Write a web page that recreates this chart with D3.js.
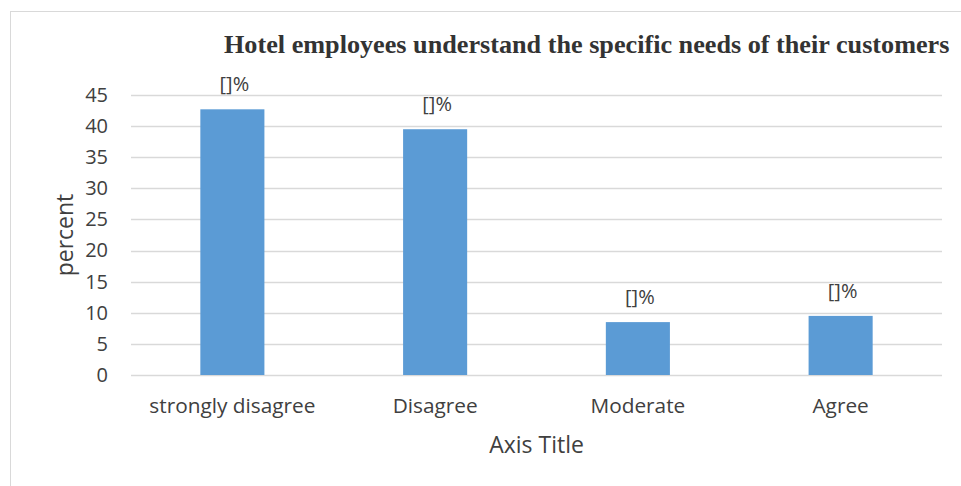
<!DOCTYPE html>
<html>
<head>
<meta charset="utf-8">
<script src="https://cdn.jsdelivr.net/npm/d3@7"></script>
<style>
  html, body { margin: 0; padding: 0; background: #fff; }
  svg { display: block; }
</style>
</head>
<body>
<script>
// Survey responses (percent of respondents)
const categories = ["strongly disagree", "Disagree", "Moderate", "Agree"];
const values = [42.7, 39.5, 8.5, 9.5];
const dataLabels = ["[]%", "[]%", "[]%", "[]%"];
const yTicks = [0, 5, 10, 15, 20, 25, 30, 35, 40, 45];
const chartTitle = "Hotel employees understand the specific needs of their customers";
const yTitle = "percent";
const xTitle = "Axis Title";

const W = 961, H = 486;
const svg = d3.select("body").append("svg").attr("width", W).attr("height", H);

// chart area frame
svg.append("rect")
  .attr("x", 10.5).attr("y", 11.5)
  .attr("width", W + 20).attr("height", H + 20)
  .attr("fill", "#fff").attr("stroke", "#d9d9d9").attr("stroke-width", 1);

const plot = { left: 131, right: 942, top: 95, bottom: 375 };

const x = d3.scaleBand()
  .domain(categories)
  .range([plot.left, plot.right])
  .paddingInner(0.684)
  .paddingOuter(0.342);

const y = d3.scaleLinear().domain([0, 45]).range([plot.bottom, plot.top]);

const sans = "'Open Sans', 'Liberation Sans', sans-serif";
const textColor = "#404040";

// gridlines
svg.append("g")
  .selectAll("line")
  .data(yTicks)
  .join("line")
  .attr("x1", plot.left).attr("x2", plot.right)
  .attr("y1", d => Math.round(y(d)) + 0.5).attr("y2", d => Math.round(y(d)) + 0.5)
  .attr("stroke", "#d9d9d9").attr("stroke-width", 1.5);

// y axis labels
const yAxis = svg.append("g")
  .attr("transform", `translate(${plot.left - 23},0)`)
  .call(d3.axisLeft(y).tickValues(yTicks).tickSize(0).tickPadding(0));
yAxis.select(".domain").remove();
yAxis.selectAll("text")
  .attr("font-family", sans).attr("font-size", 20).attr("fill", textColor);

// bars
svg.append("g")
  .selectAll("rect")
  .data(values)
  .join("rect")
  .attr("x", (d, i) => x(categories[i]))
  .attr("width", x.bandwidth())
  .attr("y", d => y(d))
  .attr("height", d => y(0) - y(d))
  .attr("fill", "#5b9bd5");

// data labels
svg.append("g")
  .selectAll("text")
  .data(values)
  .join("text")
  .attr("x", (d, i) => x(categories[i]) + x.bandwidth() / 2 + 2)
  .attr("y", d => y(d) - 18)
  .attr("text-anchor", "middle")
  .attr("font-family", sans).attr("font-size", 20).attr("fill", textColor)
  .text((d, i) => dataLabels[i]);

// x axis labels
const xAxis = svg.append("g")
  .attr("transform", `translate(0,${plot.bottom})`)
  .call(d3.axisBottom(x).tickSize(0).tickPadding(0));
xAxis.select(".domain").remove();
xAxis.selectAll("text")
  .attr("dy", null)
  .attr("y", 38)
  .attr("font-family", sans).attr("font-size", 20.8).attr("fill", textColor);

// chart title, kept inside the right edge
svg.append("text")
  .attr("x", 224).attr("y", 53)
  .attr("font-family", "'Liberation Serif', 'Times New Roman', serif")
  .attr("font-weight", "bold").attr("font-size", 26.2)
  .attr("fill", "#333")
  .text(chartTitle);

// axis titles
svg.append("text")
  .attr("x", (plot.left + plot.right) / 2).attr("y", 453)
  .attr("text-anchor", "middle")
  .attr("font-family", sans).attr("font-size", 23).attr("fill", textColor)
  .text(xTitle);

svg.append("text")
  .attr("transform", `translate(73,235) rotate(-90)`)
  .attr("text-anchor", "middle")
  .attr("font-family", sans).attr("font-size", 23).attr("fill", textColor)
  .text(yTitle);
</script>
</body>
</html>
